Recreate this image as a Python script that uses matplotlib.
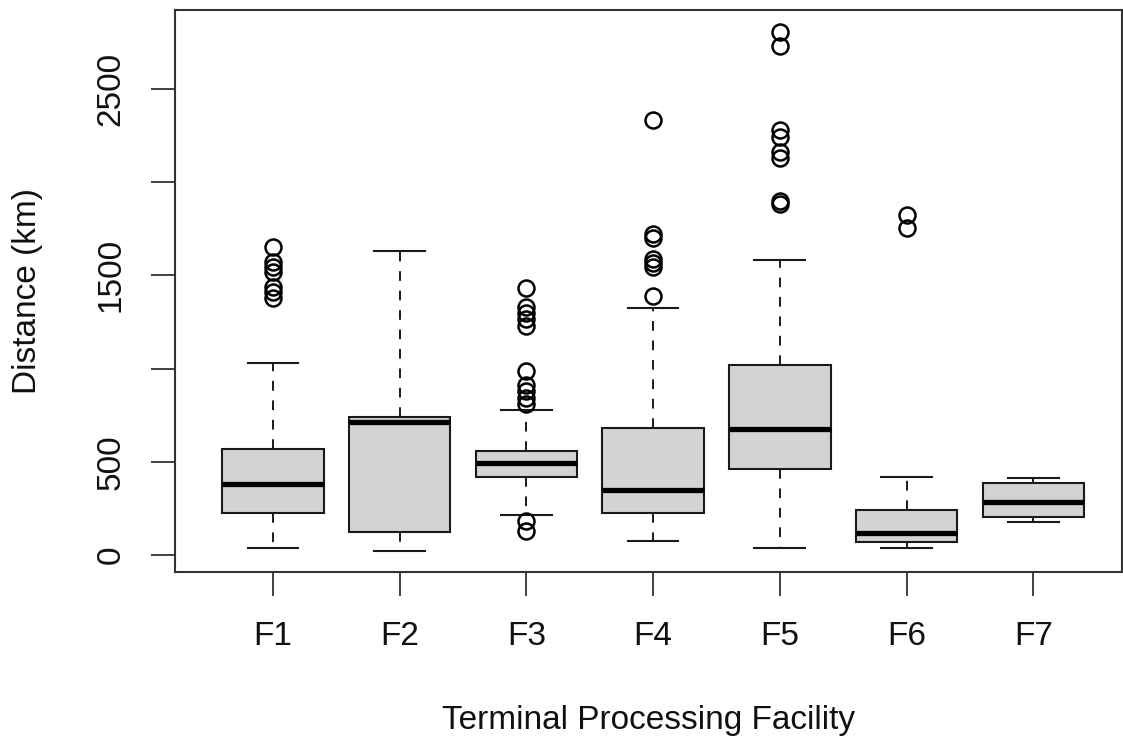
import matplotlib
matplotlib.use("Agg")
import matplotlib.pyplot as plt
from matplotlib import rcParams

rcParams["font.family"] = ["Liberation Sans", "DejaVu Sans"]

# data (km)
facilities = ["F1", "F2", "F3", "F4", "F5", "F6", "F7"]
q1 = [224, 125, 417, 227, 463, 71, 202]
medians = [379, 712, 492, 349, 678, 117, 287]
q3 = [567, 742, 560, 680, 1019, 240, 387]
whisk_lo = [39, 23, 215, 77, 40, 36, 179]
whisk_hi = [1028, 1633, 778, 1323, 1583, 417, 411]
outliers = [
    [1655, 1570, 1545, 1520, 1440, 1410, 1380],
    [],
    [1435, 1330, 1300, 1265, 1230, 985, 910, 880, 840, 810, 180, 128],
    [2335, 1720, 1700, 1590, 1565, 1545, 1390],
    [2805, 2730, 2280, 2245, 2160, 2130, 1900, 1885],
    [1825, 1755],
    [],
]
yticks = [0, 500, 1000, 1500, 2000, 2500]
ytick_labels = ["0", "500", "", "1500", "", "2500"]

FILL = "#D3D3D3"
EDGE = "#1a1a1a"

stats = []
for i, name in enumerate(facilities):
    stats.append({
        "label": name,
        "q1": q1[i], "med": medians[i], "q3": q3[i],
        "whislo": whisk_lo[i], "whishi": whisk_hi[i],
        "fliers": outliers[i],
    })

fig = plt.figure(figsize=(11.23, 7.44), dpi=100, facecolor="white")
ax = fig.add_axes([0.1558, 0.2312, 0.8433, 0.7554])

ax.bxp(
    stats,
    positions=range(1, len(facilities) + 1),
    widths=0.8,
    patch_artist=True,
    boxprops=dict(facecolor=FILL, edgecolor=EDGE, linewidth=1.5),
    medianprops=dict(color="black", linewidth=3.8, solid_capstyle="butt"),
    whiskerprops=dict(color=EDGE, linewidth=1.4, linestyle=(0, (5, 5))),
    capprops=dict(color=EDGE, linewidth=1.5),
    capwidths=0.4,
    flierprops=dict(marker="o", markerfacecolor="none", markeredgecolor="black",
                    markersize=11.5, markeredgewidth=1.8),
)

ax.set_xlim(0.227, 7.70)
ax.set_ylim(-91, 2924)

ax.set_yticks(yticks)
ax.set_yticklabels(ytick_labels, rotation=90, va="center")
ax.set_xticks(range(1, len(facilities) + 1))
ax.set_xticklabels(facilities)

ax.tick_params(axis="both", length=17, width=1.3, color="#333333",
               labelsize=24, labelcolor="#111111")
ax.tick_params(axis="x", pad=18)
ax.tick_params(axis="y", pad=18)

for s in ax.spines.values():
    s.set_edgecolor("#333333")
    s.set_linewidth(1.5)

ax.set_xlabel("Terminal Processing Facility", fontsize=24, color="#111111")
ax.xaxis.set_label_coords(0.5, -0.2367)
ax.set_ylabel("Distance (km)", fontsize=24, color="#111111")
ax.yaxis.set_label_coords(-0.1395, 0.5)

fig.savefig("out.png", dpi=100, facecolor="white")
